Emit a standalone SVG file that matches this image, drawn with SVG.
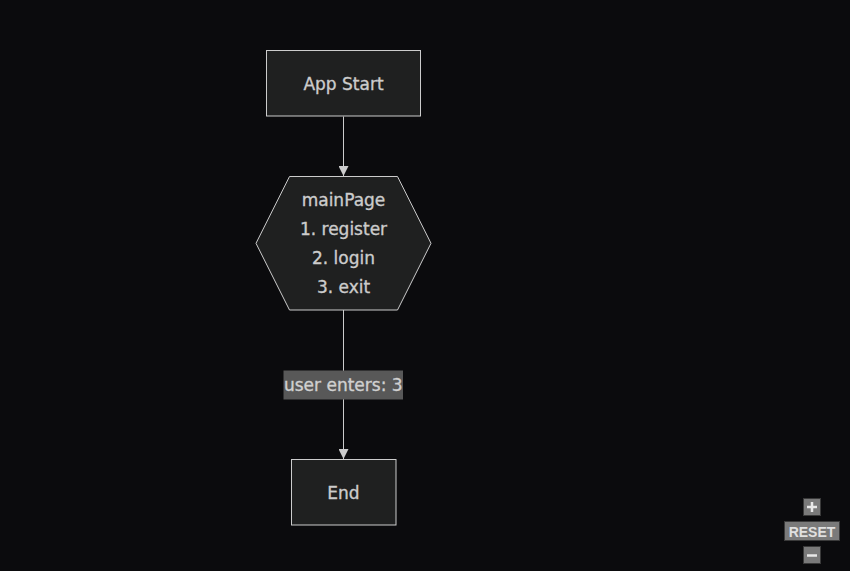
<svg xmlns="http://www.w3.org/2000/svg" width="850" height="571" viewBox="0 0 850 571">
<style>
.node{fill:#1f2020;stroke:#cccccc;stroke-width:1}
.lbl{font-family:"DejaVu Sans","Liberation Sans",sans-serif;font-size:17px;fill:#cccccc;stroke:#cccccc;stroke-width:0.35;text-anchor:middle}
.edge{stroke:#cccccc;stroke-width:1;fill:none}
.ctl{fill:#7a7a7a;stroke:#3a3a3a;stroke-width:1}
</style>
<defs>
<marker id="arr" viewBox="0 0 10 10" refX="10" refY="5" markerWidth="10" markerHeight="10" markerUnits="userSpaceOnUse" orient="auto">
<path d="M0,0 L10,5 L0,10 z" fill="#cccccc"/>
</marker>
</defs>
<rect width="850" height="571" fill="#0b0b0d"/>
<g id="connectors">
<path class="edge" d="M343.5,116.5 L343.5,176" marker-end="url(#arr)"/>
<path class="edge" d="M343.5,310 L343.5,459" marker-end="url(#arr)"/>
<g id="edge-label">
<rect x="283.5" y="370.5" width="119.5" height="29" fill="#585858"/>
<text class="lbl" x="343.3" y="391" style="fill:#d0d0d0;stroke:#d0d0d0">user enters: 3</text>
</g>
</g>
<g id="appstart">
<rect class="node" x="266.5" y="50.5" width="154" height="65.5"/>
<text class="lbl" x="343.5" y="89.5">App Start</text>
</g>
<g id="mainpage">
<polygon class="node" points="289.5,176.5 397.5,176.5 431,243.3 397.5,310 289.5,310 256,243.3"/>
<text class="lbl" x="343.5" y="205.5">mainPage</text>
<text class="lbl" x="343.5" y="234.5">1. register</text>
<text class="lbl" x="343.5" y="263.5">2. login</text>
<text class="lbl" x="343.5" y="292.5">3. exit</text>
</g>
<g id="end">
<rect class="node" x="291.5" y="459.5" width="104.5" height="65.5"/>
<text class="lbl" x="343.5" y="498.5">End</text>
</g>
<g id="zoom-controls">
<rect class="ctl" x="803.5" y="498.5" width="17" height="17"/>
<path d="M812,502 V512 M807,507 H817" stroke="#e8e8e8" stroke-width="2.5"/>
<rect class="ctl" x="784.5" y="521.5" width="55" height="19"/>
<text x="812" y="536.5" text-anchor="middle" font-family="Liberation Sans,Arial,sans-serif" font-size="14" font-weight="bold" fill="#e0e0e0">RESET</text>
<rect class="ctl" x="803.5" y="546.5" width="17" height="17"/>
<path d="M807,555.5 H817" stroke="#e8e8e8" stroke-width="2.5"/>
</g>
</svg>
